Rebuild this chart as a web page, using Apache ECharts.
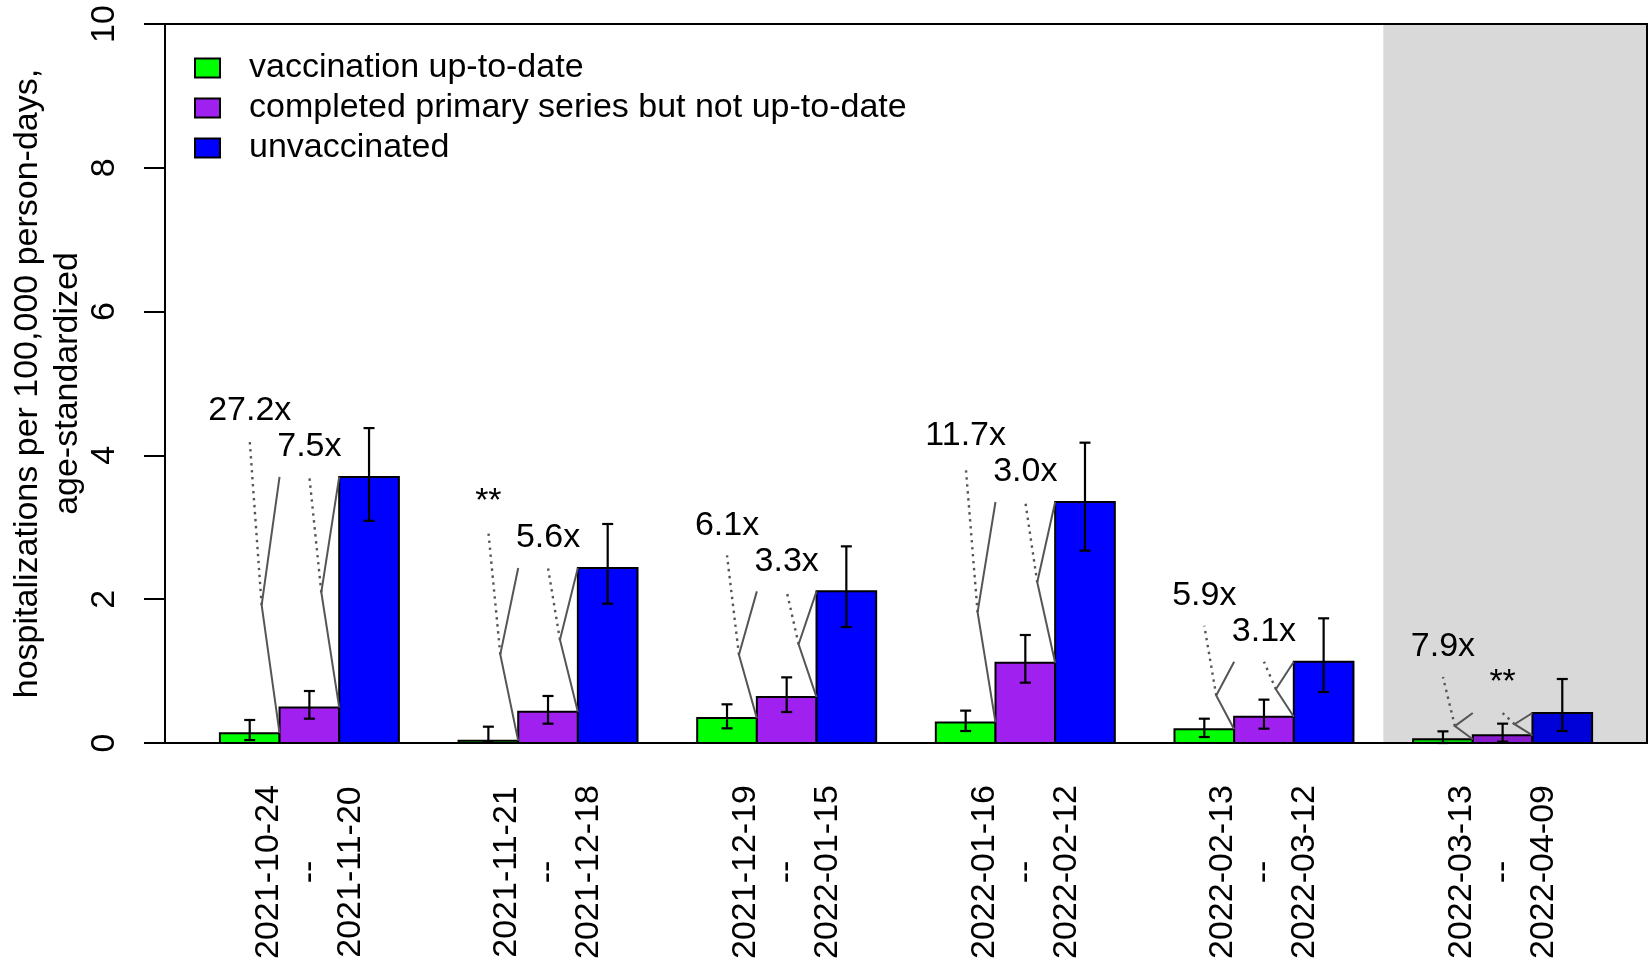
<!DOCTYPE html>
<html>
<head>
<meta charset="utf-8">
<script src="https://cdn.jsdelivr.net/npm/echarts@6/dist/echarts.min.js"></script>
<style>
  html, body { margin: 0; padding: 0; background: #ffffff; }
  #chart { width: 1652px; height: 962px; }
</style>
</head>
<body>
<div id="chart"></div>
<script>
// Four-week reporting periods
const periodStart = ['2021-10-24', '2021-11-21', '2021-12-19', '2022-01-16', '2022-02-13', '2022-03-13'];
const periodEnd   = ['2021-11-20', '2021-12-18', '2022-01-15', '2022-02-12', '2022-03-12', '2022-04-09'];

// Age-standardized hospitalizations per 100,000 person-days, with 95% intervals
const upToDate          = [0.136, 0.030, 0.346, 0.286, 0.191, 0.053];
const upToDateLow       = [0.040, 0.010, 0.204, 0.167, 0.083, 0.000];
const upToDateHigh      = [0.320, 0.227, 0.538, 0.450, 0.338, 0.162];

const primaryOnly       = [0.493, 0.435, 0.639, 1.117, 0.364, 0.107];
const primaryOnlyLow    = [0.338, 0.269, 0.431, 0.839, 0.199, 0.019];
const primaryOnlyHigh   = [0.723, 0.654, 0.913, 1.502, 0.603, 0.269];

const unvaccinated      = [3.700, 2.434, 2.109, 3.352, 1.130, 0.417];
const unvaccinatedLow   = [3.090, 1.938, 1.613, 2.675, 0.709, 0.167];
const unvaccinatedHigh  = [4.380, 3.046, 2.735, 4.177, 1.734, 0.890];

// Rate ratios of unvaccinated vs. each vaccinated group ("**" = not shown)
const ratioVsUpToDate    = ['27.2x', '**', '6.1x', '11.7x', '5.9x', '7.9x'];
const ratioVsPrimaryOnly = ['7.5x', '5.6x', '3.3x', '3.0x', '3.1x', '**'];

// Periods whose data are still incomplete (shaded)
const shadedFromPeriod = 5;

const FONT = '"Liberation Sans", Arial, Helvetica, sans-serif';
const LINE_GREY = '#555555';

const statuses = [
  { name: 'vaccination up-to-date', color: '#00ff00', values: upToDate, low: upToDateLow, high: upToDateHigh },
  { name: 'completed primary series but not up-to-date', color: '#a020f0', values: primaryOnly, low: primaryOnlyLow, high: primaryOnlyHigh },
  { name: 'unvaccinated', color: '#0000ff', values: unvaccinated, low: unvaccinatedLow, high: unvaccinatedHigh }
];

// Bars are one unit wide, groups of three separated by a one-unit gap
const groupStride = statuses.length + 1;
function barLeft(g, s) { return 1 + g * groupStride + s; }
const nGroups = periodStart.length;
const firstLeft = barLeft(0, 0);
const lastRight = barLeft(nGroups - 1, statuses.length - 1) + 1;
const pad = 0.04 * (lastRight - firstLeft);
const xMin = firstLeft - pad;
const xMax = lastRight + pad;
const groupCenters = periodStart.map((_, g) => barLeft(g, 1) + 0.5);
const Y_MAX = 10;

// Bar series, one per vaccination status
const barSeries = statuses.map((st, s) => ({
  type: 'custom',
  name: st.name,
  z: 2,
  itemStyle: { color: st.color },
  data: st.values.map((v, g) => [barLeft(g, s), v]),
  renderItem: function (params, api) {
    const x0 = api.value(0), v = api.value(1);
    const pTop = api.coord([x0, v]);
    const pBot = api.coord([x0 + 1, 0]);
    return {
      type: 'rect',
      shape: { x: pTop[0], y: pTop[1], width: pBot[0] - pTop[0], height: pBot[1] - pTop[1] },
      style: { fill: st.color, stroke: '#000', lineWidth: 2 }
    };
  }
}));

// Shaded overlay for the incomplete period(s)
const shadeSeries = {
  type: 'custom',
  name: 'shade',
  z: 3,
  silent: true,
  data: [[barLeft(shadedFromPeriod, 0) - 0.5, xMax]],
  renderItem: function (params, api) {
    const a = api.coord([api.value(0), Y_MAX]);
    const b = api.coord([api.value(1), 0]);
    return {
      type: 'rect',
      shape: { x: a[0], y: a[1], width: b[0] - a[0], height: b[1] - a[1] },
      style: { fill: 'rgba(0,0,0,0.15)' }
    };
  }
};

// Error bars
const errorData = [];
statuses.forEach((st, s) => {
  st.values.forEach((v, g) => {
    errorData.push([barLeft(g, s) + 0.5, st.low[g], st.high[g]]);
  });
});
const errorSeries = {
  type: 'custom',
  name: 'interval',
  z: 4,
  silent: true,
  data: errorData,
  renderItem: function (params, api) {
    const xc = api.value(0);
    const pl = api.coord([xc, api.value(1)]);
    const ph = api.coord([xc, api.value(2)]);
    const w = 5.5;
    const st = { stroke: '#000', lineWidth: 2.2 };
    return {
      type: 'group',
      children: [
        { type: 'line', shape: { x1: pl[0], y1: pl[1], x2: ph[0], y2: ph[1] }, style: st },
        { type: 'line', shape: { x1: pl[0] - w, y1: pl[1], x2: pl[0] + w, y2: pl[1] }, style: st },
        { type: 'line', shape: { x1: ph[0] - w, y1: ph[1], x2: ph[0] + w, y2: ph[1] }, style: st }
      ]
    };
  }
};

// Ratio brackets: each vaccinated bar compared to the unvaccinated bar
const comparisons = [];
const liftByStatus = [0.5, 0];
for (let g = 0; g < nGroups; g++) {
  [ratioVsUpToDate, ratioVsPrimaryOnly].forEach((labels, s) => {
    comparisons.push({
      edge: barLeft(g, s) + 1,
      low: statuses[s].values[g],
      high: unvaccinated[g],
      center: barLeft(g, s) + 0.5,
      top: unvaccinated[g] + liftByStatus[s],
      label: labels[g]
    });
  });
}
const bracketSeries = {
  type: 'custom',
  name: 'ratio',
  z: 4,
  silent: true,
  data: comparisons.map(c => [c.edge, c.low, c.high, c.center, c.top]),
  renderItem: function (params, api) {
    const edge = api.value(0), lo = api.value(1), hi = api.value(2);
    const cx = api.value(3), top = api.value(4);
    const pv = api.coord([edge - 0.3, (lo + hi) / 2]);
    const pLo = api.coord([edge, lo]);
    const pHi = api.coord([edge, hi]);
    const pTop = api.coord([cx, top]);
    const pText = api.coord([cx, top + 0.42]);
    return {
      type: 'group',
      children: [
        { type: 'polyline', shape: { points: [pLo, pv, pHi] },
          style: { stroke: LINE_GREY, lineWidth: 2, fill: 'none' } },
        { type: 'line', shape: { x1: pv[0], y1: pv[1], x2: pTop[0], y2: pTop[1] },
          style: { stroke: LINE_GREY, lineWidth: 2.4, lineDash: [2.4, 4.6] } },
        { type: 'text', x: pText[0], y: pText[1],
          style: { text: comparisons[params.dataIndex].label, fontSize: 34, fontFamily: FONT,
                   fill: '#000', align: 'center', verticalAlign: 'middle' } }
      ]
    };
  }
};

const chart = echarts.init(document.getElementById('chart'), null, { renderer: 'canvas' });
chart.setOption({
  animation: false,
  backgroundColor: '#ffffff',
  grid: {
    left: 165, right: 5, top: 24, bottom: 219,
    containLabel: false,
    outerBoundsMode: 'none',
    show: true, borderColor: '#000', borderWidth: 2, backgroundColor: 'transparent'
  },
  legend: {
    orient: 'vertical',
    left: 194,
    top: 51,
    padding: 0,
    itemWidth: 25,
    itemHeight: 19,
    itemGap: 6,
    selectedMode: false,
    textStyle: { fontSize: 34, fontFamily: FONT, color: '#000', lineHeight: 34, padding: [0, 0, 0, 24] },
    data: statuses.map(st => ({
      name: st.name,
      icon: 'rect',
      itemStyle: { color: st.color, borderColor: '#000', borderWidth: 2 }
    }))
  },
  xAxis: {
    type: 'value',
    min: xMin,
    max: xMax,
    axisLine: { show: false },
    axisTick: { show: false },
    splitLine: { show: false },
    axisLabel: {
      customValues: groupCenters,
      rotate: 90,
      align: 'center',
      margin: 129,
      fontSize: 34,
      lineHeight: 41,
      fontFamily: FONT,
      color: '#000',
      formatter: function (v) {
        const g = groupCenters.findIndex(c => Math.abs(c - v) < 1e-6);
        return g < 0 ? '' : periodStart[g] + '\n--\n' + periodEnd[g];
      }
    }
  },
  yAxis: {
    type: 'value',
    min: 0,
    max: Y_MAX,
    interval: 2,
    axisLine: { show: true, lineStyle: { color: '#000', width: 2 } },
    axisTick: { show: true, length: 21, lineStyle: { color: '#000', width: 2 } },
    axisLabel: { rotate: 90, fontSize: 34, fontFamily: FONT, color: '#000', margin: 43 },
    splitLine: { show: false },
    name: 'hospitalizations per 100,000 person-days,\nage-standardized',
    nameLocation: 'middle',
    nameRotate: 90,
    nameGap: 77,
    nameMoveOverlap: false,
    nameTextStyle: { fontSize: 34, fontFamily: FONT, color: '#000', lineHeight: 40 }
  },
  series: [...barSeries, shadeSeries, errorSeries, bracketSeries]
});
</script>
</body>
</html>
